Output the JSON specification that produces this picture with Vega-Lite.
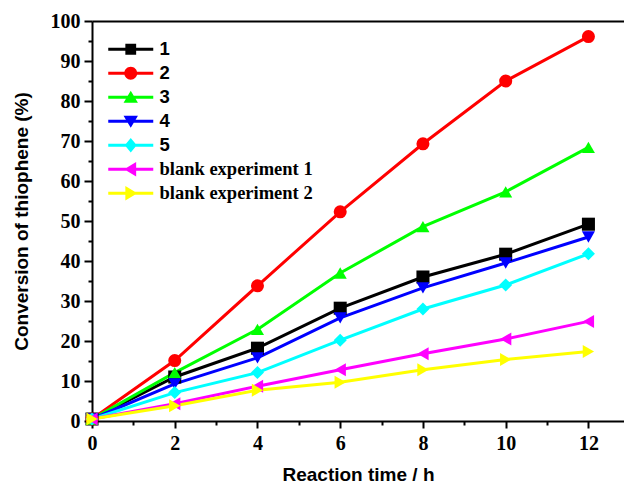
{
  "$schema": "https://vega.github.io/schema/vega-lite/v6.json",
  "width": 532,
  "height": 400,
  "autosize": "none",
  "padding": {"left": 92, "top": 21, "right": 0, "bottom": 64},
  "background": "white",
  "config": {
    "view": {"stroke": null},
    "axis": {
      "domainColor": "black",
      "domainWidth": 2,
      "tickColor": "black",
      "tickWidth": 2,
      "labelFont": "Liberation Serif",
      "labelFontWeight": "bold",
      "labelFontSize": 20,
      "labelColor": "black",
      "titleFont": "Liberation Sans",
      "titleFontWeight": "bold",
      "titleFontSize": 19,
      "titleColor": "black",
      "grid": false
    }
  },
  "data": {
    "values": [
      {"run": "1", "t": 0, "conv": 0.5},
      {"run": "1", "t": 2, "conv": 11},
      {"run": "1", "t": 4, "conv": 18.2},
      {"run": "1", "t": 6, "conv": 28.2},
      {"run": "1", "t": 8, "conv": 36},
      {"run": "1", "t": 10, "conv": 41.7},
      {"run": "1", "t": 12, "conv": 49.2},
      {"run": "2", "t": 0, "conv": 0.5},
      {"run": "2", "t": 2, "conv": 15.1},
      {"run": "2", "t": 4, "conv": 33.8},
      {"run": "2", "t": 6, "conv": 52.3},
      {"run": "2", "t": 8, "conv": 69.3},
      {"run": "2", "t": 10, "conv": 85},
      {"run": "2", "t": 12, "conv": 96.1},
      {"run": "3", "t": 0, "conv": 0.5},
      {"run": "3", "t": 2, "conv": 12.1},
      {"run": "3", "t": 4, "conv": 22.9},
      {"run": "3", "t": 6, "conv": 37},
      {"run": "3", "t": 8, "conv": 48.6},
      {"run": "3", "t": 10, "conv": 57.3},
      {"run": "3", "t": 12, "conv": 68.4},
      {"run": "4", "t": 0, "conv": 0.5},
      {"run": "4", "t": 2, "conv": 9.3},
      {"run": "4", "t": 4, "conv": 15.8},
      {"run": "4", "t": 6, "conv": 25.8},
      {"run": "4", "t": 8, "conv": 33.3},
      {"run": "4", "t": 10, "conv": 39.5},
      {"run": "4", "t": 12, "conv": 46},
      {"run": "5", "t": 0, "conv": 0.5},
      {"run": "5", "t": 2, "conv": 7.1},
      {"run": "5", "t": 4, "conv": 12.1},
      {"run": "5", "t": 6, "conv": 20.2},
      {"run": "5", "t": 8, "conv": 28},
      {"run": "5", "t": 10, "conv": 34},
      {"run": "5", "t": 12, "conv": 41.8},
      {"run": "blank experiment 1", "t": 0, "conv": 0.5},
      {"run": "blank experiment 1", "t": 2, "conv": 4.3},
      {"run": "blank experiment 1", "t": 4, "conv": 8.7},
      {"run": "blank experiment 1", "t": 6, "conv": 12.8},
      {"run": "blank experiment 1", "t": 8, "conv": 16.8},
      {"run": "blank experiment 1", "t": 10, "conv": 20.5},
      {"run": "blank experiment 1", "t": 12, "conv": 24.9},
      {"run": "blank experiment 2", "t": 0, "conv": 0.5},
      {"run": "blank experiment 2", "t": 2, "conv": 3.8},
      {"run": "blank experiment 2", "t": 4, "conv": 7.7},
      {"run": "blank experiment 2", "t": 6, "conv": 9.7},
      {"run": "blank experiment 2", "t": 8, "conv": 12.8},
      {"run": "blank experiment 2", "t": 10, "conv": 15.4},
      {"run": "blank experiment 2", "t": 12, "conv": 17.4}
    ]
  },
  "resolve": {"axis": {"x": "independent", "y": "independent"}},
  "layer": [
    {
      "mark": {"type": "line", "strokeWidth": 3},
      "encoding": {
        "x": {
          "field": "t", "type": "quantitative",
          "scale": {"domain": [0, 12.86], "nice": false, "zero": false},
          "axis": {
            "orient": "bottom",
            "title": "Reaction time / h",
            "values": [0, 1, 2, 3, 4, 5, 6, 7, 8, 9, 10, 11, 12],
            "labelExpr": "datum.value % 2 === 0 ? datum.label : ''",
            "tickSize": {"condition": {"test": "datum.value % 2 === 0", "value": 7}, "value": 4},
            "labelPadding": 5,
            "titlePadding": 12,
            "labelFlush": false,
            "labelOverlap": false
          }
        },
        "y": {
          "field": "conv", "type": "quantitative",
          "scale": {"domain": [0, 100], "nice": false},
          "axis": {
            "title": "Conversion of thiophene (%)",
            "values": [0, 5, 10, 15, 20, 25, 30, 35, 40, 45, 50, 55, 60, 65, 70, 75, 80, 85, 90, 95, 100],
            "labelExpr": "datum.value % 10 === 0 ? datum.label : ''",
            "tickSize": {"condition": {"test": "datum.value % 10 === 0", "value": 8}, "value": 4},
            "labelPadding": 4,
            "titlePadding": 19,
            "labelFlush": false,
            "labelOverlap": false
          }
        },
        "color": {
          "field": "run", "type": "nominal",
          "scale": {
            "domain": ["1", "2", "3", "4", "5", "blank experiment 1", "blank experiment 2"],
            "range": ["#000000", "#ff0000", "#00ff00", "#0000ff", "#00ffff", "#ff00ff", "#ffff00"]
          }
        }
      }
    },
    {
      "mark": {"type": "point", "filled": true, "opacity": 1, "size": 170, "strokeWidth": 0},
      "encoding": {
        "x": {
          "field": "t", "type": "quantitative",
          "axis": {"orient": "top", "title": null, "labels": false, "ticks": false, "domainWidth": 2}
        },
        "y": {"field": "conv", "type": "quantitative", "axis": null},
        "color": {
          "field": "run", "type": "nominal",
          "legend": {
            "title": null,
            "orient": "none",
            "legendX": 7,
            "legendY": 19,
            "padding": 0,
            "rowPadding": 5,
            "symbolSize": 144,
            "symbolStrokeWidth": 0,
            "symbolOffset": 22.5,
            "labelOffset": 19.5,
            "labelFontSize": 18.5,
            "labelFontWeight": "bold",
            "labelColor": "black",
            "labelFont": {"expr": "datum.index < 5 ? 'Liberation Sans' : 'Liberation Serif'"},
            "symbolType": {"expr": "['M-3.75,-0.25H3.75V0.25H-3.75Z M-0.9,-0.9H0.9V0.9H-0.9Z', 'M-3.75,-0.25H3.75V0.25H-3.75Z M-1.08,0A1.08,1.08,0,1,1,1.08,0A1.08,1.08,0,1,1,-1.08,0Z', 'M-3.75,-0.25H3.75V0.25H-3.75Z M0,-1.1L1.2,0.9H-1.2Z', 'M-3.75,-0.25H3.75V0.25H-3.75Z M0,1.1L-1.2,-0.9H1.2Z', 'M-3.75,-0.25H3.75V0.25H-3.75Z M0,-1.2L1,0L0,1.2L-1,0Z', 'M-3.75,-0.25H3.75V0.25H-3.75Z M-1.1,0L0.9,-1.2V1.2Z', 'M-3.75,-0.25H3.75V0.25H-3.75Z M1.1,0L-0.9,1.2V-1.2Z'][datum.index]"}
          }
        },
        "shape": {
          "field": "run", "type": "nominal",
          "scale": {
            "domain": ["blank experiment 2", "blank experiment 1", "5", "4", "3", "2", "1"],
            "range": ["triangle-right", "triangle-left", "diamond", "triangle-down", "triangle-up", "circle", "square"]
          },
          "legend": null
        }
      }
    }
  ]
}
